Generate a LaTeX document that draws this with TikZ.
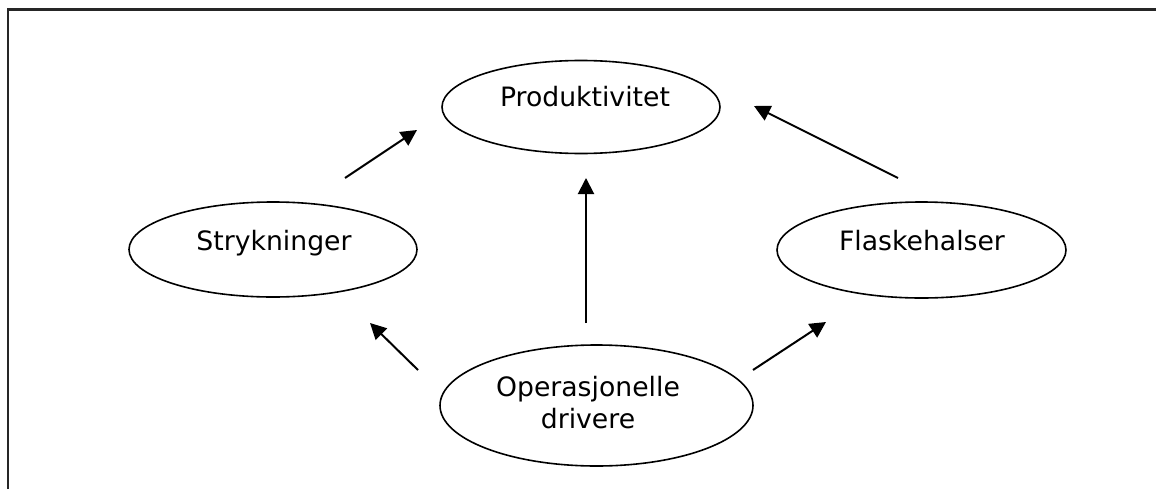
\documentclass[tikz,border=0pt]{standalone}
\usepackage{fontspec}
\setmainfont{DejaVu Sans}
\usetikzlibrary{shapes.geometric,arrows.meta}
\begin{document}
\begin{tikzpicture}[x=0.75pt,y=-0.75pt,
  oval/.style={draw=black, line width=1.2pt, ellipse, inner sep=0pt},
  lbl/.style={font=\fontsize{20}{24}\selectfont, inner sep=0pt, align=center},
  link/.style={line width=1.5pt, -{Triangle[length=12pt,width=12pt]}},
  frameline/.style={line width=1.9pt, draw=black!85}]
\useasboundingbox (0,0) rectangle (1156,489);

% outer frame (top and left edges)
\coordinate (fbl) at (8,489);
\coordinate (ftl) at (8,9.5);
\coordinate (ftr) at (1156,9.5);
\draw[frameline] (fbl) -- (ftl) -- (ftr);

% ellipses (sizes in pt: 1 unit = 0.75pt)
\node[oval, minimum width=208.5pt, minimum height=69.75pt] (prod) at (581,107) {};
\node[oval, minimum width=216pt, minimum height=71.25pt] (stryk) at (273,249.5) {};
\node[oval, minimum width=216.75pt, minimum height=72pt] (flask) at (921.5,250) {};
\node[oval, minimum width=234.75pt, minimum height=90.75pt] (oper) at (596.5,405.5) {};

% labels
\node[lbl, anchor=base] (prod-t) at (585,106) {Produktivitet};
\node[lbl, anchor=base] (stryk-t) at (274,250) {Strykninger};
\node[lbl, anchor=base] (flask-t) at (922,250) {Flaskehalser};
\node[lbl] (oper-t) at (588,403) {Operasjonelle\\drivere};

% arrow end points
\coordinate (a1s) at (345,178);  \coordinate (a1e) at (417,130);
\coordinate (a2s) at (898,178);  \coordinate (a2e) at (754,106);
\coordinate (a3s) at (586,323);  \coordinate (a3e) at (586,178);
\coordinate (a4s) at (418,370);  \coordinate (a4e) at (370,323);
\coordinate (a5s) at (753,370);  \coordinate (a5e) at (826,322);

\draw[link] (a1s) -- (a1e);
\draw[link] (a2s) -- (a2e);
\draw[link] (a3s) -- (a3e);
\draw[link] (a4s) -- (a4e);
\draw[link] (a5s) -- (a5e);
\end{tikzpicture}
\end{document}
